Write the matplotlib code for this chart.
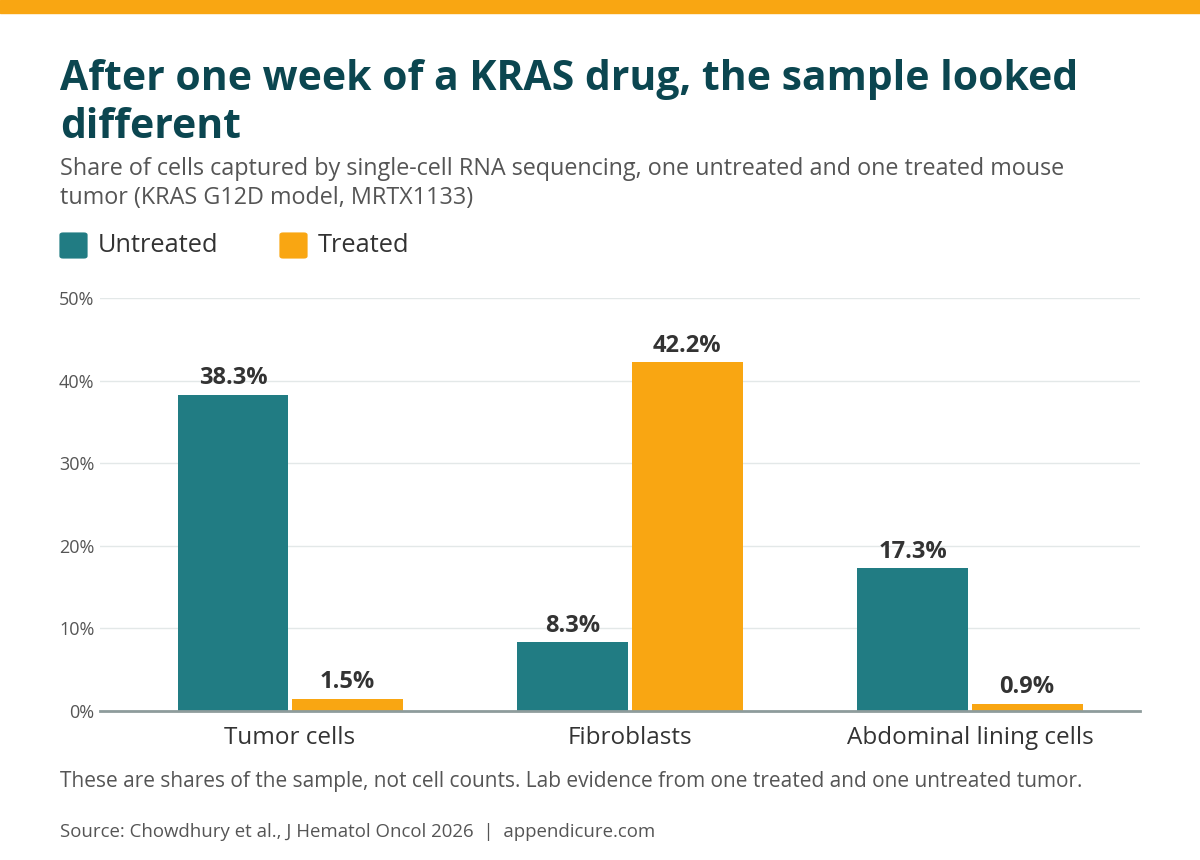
import matplotlib
matplotlib.use('Agg')
import matplotlib.pyplot as plt
import numpy as np

plt.rcParams['font.family'] = ['Open Sans', 'DejaVu Sans']

# データ
categories = ['Tumor cells', 'Fibroblasts', 'Abdominal lining cells']
untreated = [38.3, 8.3, 17.3]
treated = [1.5, 42.2, 0.9]
series_names = ['Untreated', 'Treated']
yticks = [0, 10, 20, 30, 40, 50]

TEAL = '#217C83'
ORANGE = '#F9A612'
TITLE = '#0B4650'
DARK = '#333333'
GRAY = '#555555'

fig = plt.figure(figsize=(12, 8.6), dpi=100)
W, H = 1200, 860

# 上部のオレンジ帯
fig.patches.append(plt.Rectangle((0, 1 - 13 / H), 1, 13 / H, transform=fig.transFigure,
                                 color=ORANGE, zorder=0))

# タイトル・サブタイトル
fig.text(60 / W, 1 - 79 / H, 'After one week of a KRAS drug, the sample looked',
         fontsize=29.4, fontweight='bold', color=TITLE, va='center')
fig.text(60 / W, 1 - 127 / H, 'different',
         fontsize=29.4, fontweight='bold', color=TITLE, va='center')
fig.text(60 / W, 1 - 169 / H,
         'Share of cells captured by single-cell RNA sequencing, one untreated and one treated mouse',
         fontsize=16.8, color=GRAY, va='center')
fig.text(60 / W, 1 - 198 / H, 'tumor (KRAS G12D model, MRTX1133)',
         fontsize=16.8, color=GRAY, va='center')

# 凡例
for x0, name, col in [(60, series_names[0], TEAL), (280, series_names[1], ORANGE)]:
    fig.patches.append(matplotlib.patches.FancyBboxPatch(
        ((x0 + 3) / W, 1 - (259 - 3) / H), 21 / W, 21 / H,
        boxstyle='round,pad=0.003', transform=fig.transFigure,
        facecolor=col, edgecolor='none'))
    fig.text((x0 + 38) / W, 1 - 246 / H, name, fontsize=18.3, color=DARK, va='center')

# 棒グラフ
ax = fig.add_axes([100 / W, 1 - 711 / H, 1040 / W, (711 - 298) / H])
x = np.arange(len(categories))
bw = 0.326
off = 0.168
b1 = ax.bar(x - off, untreated, bw, color=TEAL, zorder=3)
b2 = ax.bar(x + off, treated, bw, color=ORANGE, zorder=3)

for bars, vals in [(b1, untreated), (b2, treated)]:
    for b, v in zip(bars, vals):
        ax.annotate(f'{v}%', (b.get_x() + b.get_width() / 2, v), xytext=(0, 3),
                    textcoords='offset points', ha='center', va='bottom',
                    fontsize=17, fontweight='bold', color=DARK)

ax.set_xlim(-0.559, 2.5)
ax.set_ylim(0, 50)
ax.set_yticks(yticks)
ax.set_yticklabels([f'{t}%' for t in yticks], fontsize=13, color=GRAY)
ax.set_xticks(x)
ax.set_xticklabels(categories, fontsize=17.5, color=DARK)
ax.tick_params(axis='both', length=0)
ax.tick_params(axis='y', pad=4)
ax.tick_params(axis='x', pad=11)
ax.grid(axis='y', color='#E3E8E8', linewidth=1, zorder=0)
for s in ['top', 'right', 'left']:
    ax.spines[s].set_visible(False)
ax.spines['bottom'].set_color('#8E9C9C')
ax.spines['bottom'].set_linewidth(2)
ax.spines['bottom'].set_zorder(4)

# 注記・出典
fig.text(60 / W, 1 - 782 / H,
         'These are shares of the sample, not cell counts. Lab evidence from one treated and one untreated tumor.',
         fontsize=15, color=GRAY, va='center')
fig.text(60 / W, 1 - 832 / H,
         'Source: Chowdhury et al., J Hematol Oncol 2026  |  appendicure.com',
         fontsize=13.4, color=GRAY, va='center')

fig.savefig('out.png', dpi=100)
